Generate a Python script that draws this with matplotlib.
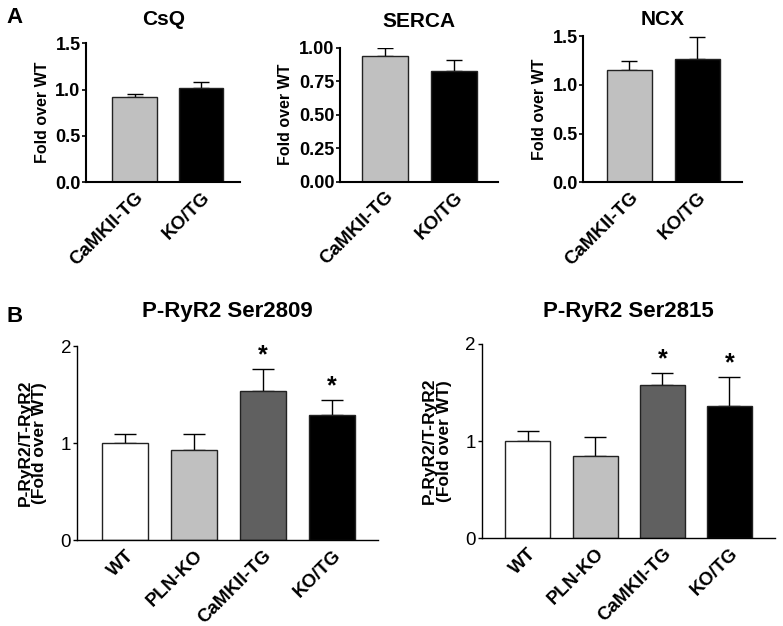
import matplotlib
matplotlib.use("Agg")
import matplotlib.pyplot as plt

plt.rcParams['font.family'] = ['Liberation Sans', 'DejaVu Sans']

# panel A
groups_a = ["CaMKII-TG", "KO/TG"]
colors_a = ["#c0c0c0", "#000000"]
csq_mean = [0.92, 1.02]
csq_err = [0.03, 0.06]
serca_mean = [0.94, 0.825]
serca_err = [0.06, 0.085]
ncx_mean = [1.15, 1.27]
ncx_err = [0.095, 0.22]

# panel B
groups_b = ["WT", "PLN-KO", "CaMKII-TG", "KO/TG"]
colors_b = ["#ffffff", "#c0c0c0", "#606060", "#000000"]
s2809_mean = [1.00, 0.935, 1.535, 1.295]
s2809_err = [0.10, 0.16, 0.23, 0.15]
s2815_mean = [1.00, 0.85, 1.58, 1.36]
s2815_err = [0.105, 0.19, 0.12, 0.30]
stars = [False, False, True, True]

fig = plt.figure(figsize=(7.83, 6.26), dpi=100)


def bars(ax, labels, means, errs, colors, cap):
    x = list(range(len(labels)))
    ax.bar(x, means, width=0.67, color=colors, edgecolor="#222222", linewidth=1.0, zorder=2)
    ax.errorbar(x, means, yerr=[[0] * len(errs), errs], fmt='none', ecolor='black',
                elinewidth=1.0, capsize=cap, capthick=1.0, zorder=1)
    ax.set_xticks(x)
    ax.set_xticklabels(labels, rotation=45, ha='right', rotation_mode='anchor',
                       fontweight='bold', fontsize=13.5)
    ax.tick_params(axis='x', length=0, pad=5)
    ax.tick_params(axis='y', length=3, width=1.2, direction='out', pad=1)
    for s in ['top', 'right']:
        ax.spines[s].set_visible(False)
    for s in ['left', 'bottom']:
        ax.spines[s].set_linewidth(1.5)
    return x


def title_at(ax, text, y, size):
    p = ax.get_position()
    fig.text(p.x0 + p.width / 2, y, text, ha='center', va='center',
             fontweight='bold', fontsize=size)


# CsQ
ax1 = fig.add_axes([0.110, 0.709, 0.197, 0.222])
bars(ax1, groups_a, csq_mean, csq_err, colors_a, 6)
ax1.set_xlim(-0.73, 1.59)
ax1.set_ylim(0, 1.5)
ax1.set_yticks([0, 0.5, 1.0, 1.5])
ax1.set_yticklabels(["0.0", "0.5", "1.0", "1.5"], fontweight='bold', fontsize=13)
ax1.set_ylabel("Fold over WT", fontweight='bold', fontsize=11.5, labelpad=4)
title_at(ax1, "CsQ", 0.969, 15)

# SERCA
ax2 = fig.add_axes([0.434, 0.710, 0.202, 0.214])
bars(ax2, groups_a, serca_mean, serca_err, colors_a, 6)
ax2.set_xlim(-0.66, 1.64)
ax2.set_ylim(0, 1.0)
ax2.set_yticks([0, 0.25, 0.5, 0.75, 1.0])
ax2.set_yticklabels(["0.00", "0.25", "0.50", "0.75", "1.00"], fontweight='bold', fontsize=13)
ax2.set_ylabel("Fold over WT", fontweight='bold', fontsize=11.5, labelpad=4)
title_at(ax2, "SERCA", 0.966, 15)

# NCX
ax3 = fig.add_axes([0.745, 0.709, 0.202, 0.233])
bars(ax3, groups_a, ncx_mean, ncx_err, colors_a, 6)
ax3.set_xlim(-0.68, 1.65)
ax3.set_ylim(0, 1.5)
ax3.set_yticks([0, 0.5, 1.0, 1.5])
ax3.set_yticklabels(["0.0", "0.5", "1.0", "1.5"], fontweight='bold', fontsize=13)
ax3.set_ylabel("Fold over WT", fontweight='bold', fontsize=11.5, labelpad=4)
title_at(ax3, "NCX", 0.969, 15)

fig.text(0.008, 0.972, "A", fontweight='bold', fontsize=16, va='center')

# P-RyR2 panels
for pos, means, errs, title, xl in [
        ([0.098, 0.137, 0.385, 0.310], s2809_mean, s2809_err, "P-RyR2 Ser2809", (-0.70, 3.67)),
        ([0.615, 0.140, 0.375, 0.311], s2815_mean, s2815_err, "P-RyR2 Ser2815", (-0.69, 3.68))]:
    ax = fig.add_axes(pos)
    x = bars(ax, groups_b, means, errs, colors_b, 8)
    ax.set_xlim(*xl)
    ax.set_ylim(0, 2)
    ax.set_yticks([0, 1, 2])
    ax.set_yticklabels(["0", "1", "2"], fontsize=13.5)
    ax.spines['left'].set_linewidth(1.0)
    ax.spines['bottom'].set_linewidth(1.0)
    ax.tick_params(axis='y', width=1.0)
    ax.set_ylabel("P-RyR2/T-RyR2\n(Fold over WT)", fontweight='bold', fontsize=12.5,
                  linespacing=0.95, labelpad=10)
    title_at(ax, title, 0.502, 16)
    for xi, m, e, s in zip(x, means, errs, stars):
        if s:
            ax.text(xi, m + e + 0.02, "*", ha='center', va='bottom', fontweight='bold', fontsize=18)

fig.text(0.008, 0.494, "B", fontweight='bold', fontsize=16, va='center')

fig.savefig("out.png", dpi=100)
